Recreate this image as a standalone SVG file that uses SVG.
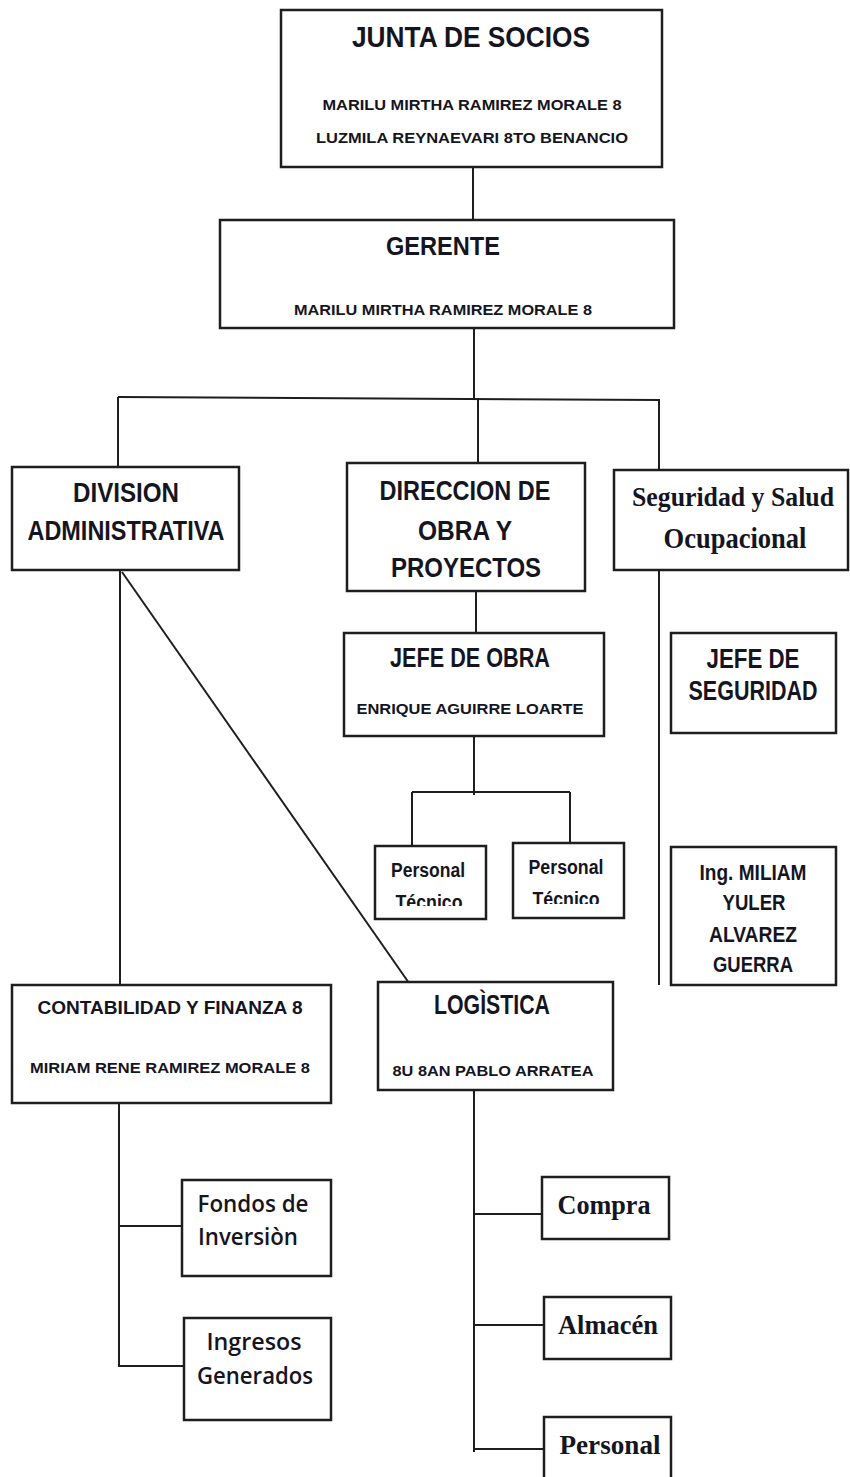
<svg xmlns="http://www.w3.org/2000/svg" width="850" height="1477" viewBox="0 0 850 1477">
<style>
.box{fill:#fff;stroke:#1e1e1e;stroke-width:2.5}
.ln{stroke:#1e1e1e;stroke-width:2;fill:none}
.t{font-family:"Liberation Sans Narrow","Liberation Sans",Arial,sans-serif;font-weight:bold;fill:#15151f;text-anchor:middle}
.big{font-size:27px}
.sm{font-size:15px}
.sf{font-family:"Liberation Serif","Times New Roman",serif;font-weight:bold;fill:#15151f;text-anchor:middle}
.cb{font-family:"Open Sans","Noto Sans",sans-serif;font-weight:600;fill:#15151f;text-anchor:middle;font-size:24px}
</style>
<defs>
<clipPath id="c1"><rect x="375" y="846" width="111" height="60"/></clipPath>
<clipPath id="c2"><rect x="513" y="843" width="111" height="61"/></clipPath>
</defs>
<g id="connectors">
<line class="ln" x1="473" y1="167" x2="473" y2="220"/>
<line class="ln" x1="474" y1="328" x2="474" y2="399"/>
<line class="ln" x1="118" y1="397" x2="660" y2="400"/>
<line class="ln" x1="118" y1="397" x2="118" y2="467"/>
<line class="ln" x1="478" y1="398" x2="478" y2="463"/>
<line class="ln" x1="659" y1="400" x2="659" y2="470"/>
<line class="ln" x1="659" y1="570" x2="659" y2="985"/>
<line class="ln" x1="476" y1="591" x2="476" y2="633"/>
<line class="ln" x1="474" y1="736" x2="474" y2="795"/>
<line class="ln" x1="412" y1="792" x2="570" y2="792"/>
<line class="ln" x1="412" y1="792" x2="412" y2="846"/>
<line class="ln" x1="570" y1="792" x2="570" y2="843"/>
<line class="ln" x1="120" y1="570" x2="120" y2="985"/>
<line class="ln" x1="122" y1="572" x2="409" y2="983"/>
<line class="ln" x1="119" y1="1084" x2="119" y2="1367"/>
<line class="ln" x1="119" y1="1226" x2="187" y2="1226"/>
<line class="ln" x1="119" y1="1366" x2="185" y2="1366"/>
<line class="ln" x1="474" y1="1090" x2="474" y2="1452"/>
<line class="ln" x1="474" y1="1214" x2="542" y2="1214"/>
<line class="ln" x1="474" y1="1325" x2="544" y2="1325"/>
<line class="ln" x1="474" y1="1449" x2="544" y2="1449"/>
</g>
<g id="junta">
<rect class="box" x="281" y="10" width="381" height="157"/>
<text class="t" x="471" y="47" font-size="30" textLength="238" lengthAdjust="spacingAndGlyphs">JUNTA DE SOCIOS</text>
<text class="t sm" x="472" y="110" textLength="299" lengthAdjust="spacingAndGlyphs">MARILU MIRTHA RAMIREZ MORALE 8</text>
<text class="t sm" x="472" y="143" textLength="312" lengthAdjust="spacingAndGlyphs">LUZMILA  REYNAEVARI 8TO BENANCIO</text>
</g>
<g id="gerente">
<rect class="box" x="220" y="220" width="454" height="108"/>
<text class="t" x="443" y="255" font-size="26" textLength="114" lengthAdjust="spacingAndGlyphs">GERENTE</text>
<text class="t sm" x="443" y="315" textLength="298" lengthAdjust="spacingAndGlyphs">MARILU MIRTHA RAMIREZ MORALE 8</text>
</g>
<g id="division">
<rect class="box" x="12" y="467" width="227" height="103"/>
<text class="t big" x="126" y="502" textLength="106" lengthAdjust="spacingAndGlyphs">DIVISION</text>
<text class="t big" x="126" y="540" textLength="197" lengthAdjust="spacingAndGlyphs">ADMINISTRATIVA</text>
</g>
<g id="direccion">
<rect class="box" x="347" y="463" width="238" height="128"/>
<text class="t big" x="465" y="500" textLength="171" lengthAdjust="spacingAndGlyphs">DIRECCION DE</text>
<text class="t big" x="465" y="540" textLength="94" lengthAdjust="spacingAndGlyphs">OBRA Y</text>
<text class="t big" x="466" y="577" textLength="150" lengthAdjust="spacingAndGlyphs">PROYECTOS</text>
</g>
<g id="seguridad">
<rect class="box" x="614" y="470" width="234" height="100"/>
<text class="sf" x="733" y="506" font-size="28" textLength="202" lengthAdjust="spacingAndGlyphs">Seguridad y Salud</text>
<text class="sf" x="735" y="548" font-size="29" textLength="143" lengthAdjust="spacingAndGlyphs">Ocupacional</text>
</g>
<g id="jefeobra">
<rect class="box" x="344" y="633" width="260" height="103"/>
<text class="t big" x="470" y="667" textLength="160" lengthAdjust="spacingAndGlyphs">JEFE DE OBRA</text>
<text class="t sm" x="470" y="714" textLength="227" lengthAdjust="spacingAndGlyphs">ENRIQUE AGUIRRE LOARTE</text>
</g>
<g id="jefeseguridad">
<rect class="box" x="671" y="633" width="165" height="100"/>
<text class="t big" x="753" y="668" textLength="93" lengthAdjust="spacingAndGlyphs">JEFE DE</text>
<text class="t big" x="753" y="700" textLength="129" lengthAdjust="spacingAndGlyphs">SEGURIDAD</text>
</g>
<g id="personaltecnico1">
<rect class="box" x="375" y="846" width="111" height="73"/>
<text class="t" x="428" y="877" font-size="20" textLength="74" lengthAdjust="spacingAndGlyphs">Personal</text>
<text class="t" x="429" y="909" font-size="20" textLength="67" lengthAdjust="spacingAndGlyphs" clip-path="url(#c1)">Técnico</text>
</g>
<g id="personaltecnico2">
<rect class="box" x="513" y="843" width="111" height="75"/>
<text class="t" x="566" y="874" font-size="20" textLength="75" lengthAdjust="spacingAndGlyphs">Personal</text>
<text class="t" x="566" y="906" font-size="20" textLength="67" lengthAdjust="spacingAndGlyphs" clip-path="url(#c2)">Técnico</text>
</g>
<g id="ingmiliam">
<rect class="box" x="671" y="847" width="165" height="138"/>
<text class="t" x="753" y="880" font-size="22" textLength="107" lengthAdjust="spacingAndGlyphs">Ing. MILIAM</text>
<text class="t" x="754" y="910" font-size="22" textLength="63" lengthAdjust="spacingAndGlyphs">YULER</text>
<text class="t" x="753" y="942" font-size="22" textLength="88" lengthAdjust="spacingAndGlyphs">ALVAREZ</text>
<text class="t" x="753" y="972" font-size="22" textLength="80" lengthAdjust="spacingAndGlyphs">GUERRA</text>
</g>
<g id="contabilidad">
<rect class="box" x="12" y="985" width="319" height="118"/>
<text class="t" x="170" y="1014" font-size="19" textLength="265" lengthAdjust="spacingAndGlyphs">CONTABILIDAD Y FINANZA 8</text>
<text class="t sm" x="170" y="1073" textLength="280" lengthAdjust="spacingAndGlyphs">MIRIAM  RENE RAMIREZ MORALE 8</text>
</g>
<g id="logistica">
<rect class="box" x="378" y="982" width="235" height="108"/>
<text class="t big" x="492" y="1014" textLength="116" lengthAdjust="spacingAndGlyphs">LOGÌSTICA</text>
<text class="t sm" x="493" y="1076" textLength="201" lengthAdjust="spacingAndGlyphs">8U 8AN PABLO ARRATEA</text>
</g>
<g id="fondos">
<rect class="box" x="182" y="1180" width="149" height="96"/>
<text class="cb" x="253" y="1212" textLength="111" lengthAdjust="spacingAndGlyphs">Fondos de</text>
<text class="cb" x="248" y="1245" textLength="100" lengthAdjust="spacingAndGlyphs">Inversiòn</text>
</g>
<g id="ingresos">
<rect class="box" x="184" y="1318" width="147" height="102"/>
<text class="cb" x="254" y="1350" textLength="95" lengthAdjust="spacingAndGlyphs">Ingresos</text>
<text class="cb" x="255" y="1384" textLength="116" lengthAdjust="spacingAndGlyphs">Generados</text>
</g>
<g id="compra">
<rect class="box" x="542" y="1177" width="127" height="62"/>
<text class="sf" x="604" y="1214" font-size="28" textLength="93" lengthAdjust="spacingAndGlyphs">Compra</text>
</g>
<g id="almacen">
<rect class="box" x="544" y="1297" width="127" height="62"/>
<text class="sf" x="608" y="1334" font-size="28" textLength="100" lengthAdjust="spacingAndGlyphs">Almacén</text>
</g>
<g id="personal">
<rect class="box" x="544" y="1417" width="127" height="70"/>
<text class="sf" x="610" y="1454" font-size="28" textLength="101" lengthAdjust="spacingAndGlyphs">Personal</text>
</g>
</svg>
